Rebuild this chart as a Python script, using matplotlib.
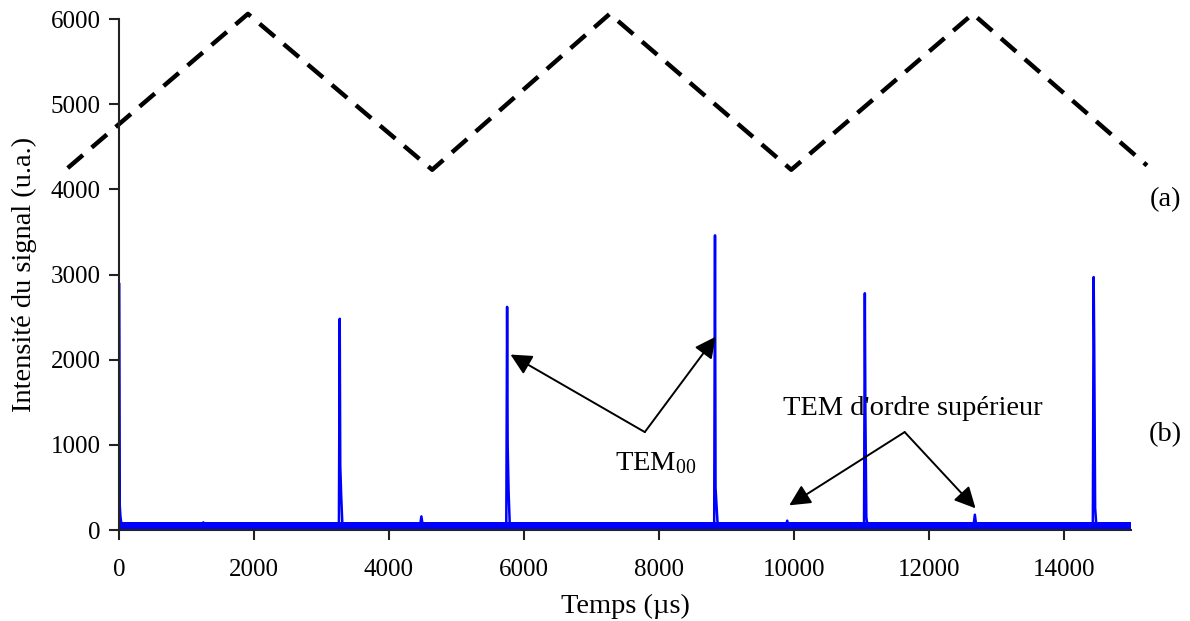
import matplotlib
matplotlib.use('Agg')
import matplotlib.pyplot as plt

plt.rcParams['font.family'] = ['Liberation Serif', 'DejaVu Serif']
plt.rcParams['mathtext.fontset'] = 'custom'
plt.rcParams['mathtext.rm'] = 'Liberation Serif'
plt.rcParams['mathtext.it'] = 'Liberation Serif:italic'

# (a) triangular ramp, corner points (dashed)
ramp_t = [-760, 1910, 4640, 7270, 9960, 12650, 15230]
ramp_v = [4250, 6060, 4230, 6060, 4230, 6060, 4280]

# (b) transmitted signal: peaks (time, top, shoulder1, shoulder2)
peak_t = [0, 3270, 5750, 8830, 11050, 14440]
peak_top = [2900, 2480, 2620, 3460, 2780, 2970]
peak_sh1 = [330, 750, 1000, 500, 1400, 2200]
peak_sh2 = [150, 400, 450, 300, 150, 260]

# small bumps on the baseline
bump_t = [1250, 4480, 9900, 12680]
bump_v = [90, 160, 110, 180]

baseline = 50
band_top = 90
t_range = [0, 15000]

# build the trace from the lists above
xs, ys = [t_range[0]], [baseline]
events = [(t, [baseline, top, s1, s2, baseline]) for t, top, s1, s2 in
          zip(peak_t, peak_top, peak_sh1, peak_sh2)]
events += [(t, [baseline, v, baseline]) for t, v in zip(bump_t, bump_v)]
events.sort(key=lambda e: e[0])
for t, vals in events:
    offs = [-12, 0, 8, 22, 40] if len(vals) == 5 else [-20, 0, 20]
    for o, v in zip(offs, vals):
        xs.append(max(t + o, 0))
        ys.append(v)
xs.append(t_range[1])
ys.append(baseline)

fig = plt.figure(figsize=(11.9, 6.21), dpi=100)
ax = fig.add_axes([0.1, 0.1465, 0.8508, 0.8229])

ax.fill_between(t_range, 0, band_top, color='#0000FF', lw=0)
ax.plot(xs, ys, color='#0000FF', lw=1.8)
ax.plot(ramp_t, ramp_v, color='black', lw=3.2, dashes=(4.5, 2.6), clip_on=False)

ax.set_xlim(0, 15000)
ax.set_ylim(0, 6000)
ax.set_xticks(range(0, 15000, 2000))
ax.set_yticks(range(0, 6001, 1000))

for s in ['top', 'right']:
    ax.spines[s].set_visible(False)
for s in ['left', 'bottom']:
    ax.spines[s].set_linewidth(1.5)
    ax.spines[s].set_color('#222222')
ax.tick_params(direction='out', length=7, width=1.5, color='#222222',
               labelsize=18, pad=6)
ax.tick_params(axis='x', pad=14)

ax.set_xlabel('Temps (µs)', fontsize=20.5, labelpad=9)
ax.set_ylabel('Intensité du signal (u.a.)', fontsize=20.5, labelpad=10)

arrow = dict(arrowstyle='-|>', mutation_scale=32, lw=1.4, color='black',
             shrinkA=0, shrinkB=0)
ax.annotate('', xy=(5800, 2060), xytext=(7790, 1150), arrowprops=arrow)
ax.annotate('', xy=(8840, 2270), xytext=(7790, 1150), arrowprops=arrow)
ax.text(7950, 780, 'TEM$_{00}$', fontsize=20.5, ha='center', va='center')

ax.annotate('', xy=(9930, 290), xytext=(11640, 1150), arrowprops=arrow)
ax.annotate('', xy=(12690, 255), xytext=(11640, 1150), arrowprops=arrow)
ax.text(11760, 1430, "TEM d'ordre supérieur", fontsize=20.5, ha='center', va='center')

fig.text(0.979, 0.678, '(a)', fontsize=20.5, ha='center', va='center')
fig.text(0.979, 0.30, '(b)', fontsize=20.5, ha='center', va='center')

fig.savefig('out.png', dpi=100)
